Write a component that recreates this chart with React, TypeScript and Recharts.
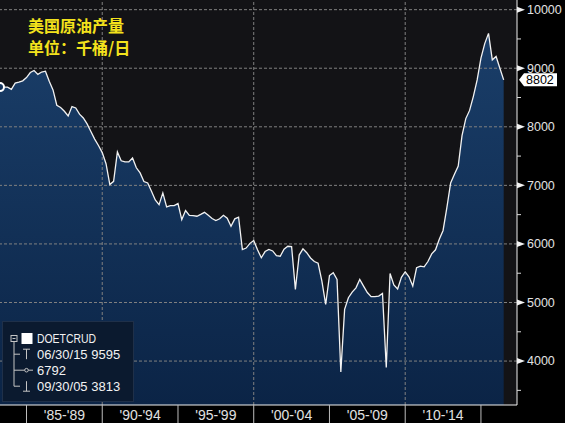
import React from 'react';
import {
  ComposedChart, Area, Line, XAxis, YAxis, CartesianGrid, ReferenceLine,
} from 'recharts';

// quarterly US crude output (kb/d), first point = 1983 Q1, last = 2016 Q2
const FIRST_QUARTER = 1983.25;
const OUTPUT = [
  8678, 8678, 8678, 8640, 8746, 8762, 8785, 8840, 8927, 8962,
  8895, 8935, 8950, 8776, 8630, 8368, 8330, 8265, 8185, 8345,
  8322, 8215, 8150, 8050, 7920, 7790, 7680, 7560, 7370, 7013,
  7069, 7570, 7420, 7400, 7400, 7468, 7300, 7212, 7065, 7042,
  6900, 6750, 6672, 6871, 6633, 6655, 6655, 6689, 6416, 6570,
  6487, 6485, 6473, 6505, 6540, 6490, 6435, 6400, 6430, 6490,
  6440, 6303, 6428, 6456, 5905, 5930, 6010, 6058, 5900, 5764,
  5870, 5906, 5880, 5800, 5790, 5910, 5960, 5955, 5224, 5810,
  5917, 5850, 5760, 5700, 5670, 5365, 4968, 5460, 5510, 5394,
  3813, 4883, 5082, 5178, 5250, 5394, 5280, 5170, 5100, 5099,
  5110, 5156, 3889, 5496, 5300, 5230, 5430, 5525, 5440, 5280,
  5593, 5620, 5610, 5700, 5830, 5900, 6080, 6230, 6620, 7040,
  7190, 7330, 7850, 8140, 8280, 8520, 8800, 9172, 9420, 9595,
  9143, 9200, 9000, 8802,
];

const PERIOD_STARTS = [1985, 1990, 1995, 2000, 2005, 2010, 2015];
const PERIOD_LABELS = ["'85-'89", "'90-'94", "'95-'99", "'00-'04", "'05-'09", "'10-'14"];
const Y_TICKS = [3500, 4000, 4500, 5000, 5500, 6000, 6500, 7000, 7500, 8000, 8500, 9000, 9500, 10000];
const Y_GRID = [4000, 5000, 6000, 7000, 8000, 9000, 10000];
const X_GRID = [1990, 2000, 2010];
const LAST_VALUE = 8802;
const LEGEND_NAME = 'DOETCRUD';
const LEGEND_ROWS = ['06/30/15 9595', '6792', '09/30/05 3813'];

const data = OUTPUT.map((v, i) => ({ t: FIRST_QUARTER + i * 0.25, v }));

const xTicks: number[] = [];
PERIOD_STARTS.forEach((s, i) => {
  xTicks.push(s);
  if (i < PERIOD_LABELS.length) xTicks.push(s + 2.5);
});

const SANS = 'Liberation Sans, Arial, sans-serif';

function XTick(props: any) {
  const { x, y, payload } = props;
  const val = payload.value as number;
  if (PERIOD_STARTS.includes(val)) {
    return <line x1={x} x2={x} y1={y} y2={y + 20} stroke="#bdbdbd" strokeWidth={1} />;
  }
  const idx = PERIOD_STARTS.indexOf(val - 2.5);
  return (
    <text x={x} y={y + 15} textAnchor="middle" fill="#e0e0e0" fontSize={14} fontFamily={SANS}>
      {PERIOD_LABELS[idx]}
    </text>
  );
}

function YTick(props: any) {
  const { x, y, payload } = props;
  const val = payload.value as number;
  if (val % 1000 !== 0) {
    return <line x1={x} x2={x + 4} y1={y} y2={y} stroke="#dcdcdc" strokeWidth={1} />;
  }
  return (
    <g>
      <path d={`M${x},${y - 3} L${x + 8},${y} L${x},${y + 3} Z`} fill="#f2f2f2" />
      <text x={x + 10} y={y} dy="0.35em" fill="#e2e2e2" fontSize={12.5} fontFamily={SANS}>{val}</text>
    </g>
  );
}

function LastTag(props: any) {
  const { viewBox } = props;
  if (!viewBox) return null;
  const tip = viewBox.x + viewBox.width + 2;
  const cy = viewBox.y;
  return (
    <g>
      <path
        d={`M${tip},${cy} L${tip + 5},${cy - 6.5} L${tip + 38},${cy - 6.5} L${tip + 38},${cy + 6.5} L${tip + 5},${cy + 6.5} Z`}
        fill="#ffffff"
      />
      <text x={tip + 7} y={cy} dy="0.36em" fill="#000" fontSize={12.5} fontFamily={SANS}>{LAST_VALUE}</text>
    </g>
  );
}

function LegendBox() {
  const rows = [17.5, 33.2, 49.2, 65.2];
  const g = '#c4c4c4';
  return (
    <svg width={132} height={82} style={{ position: 'absolute', left: 2, top: 321, overflow: 'visible' }}>
      <rect x={0.5} y={0.5} width={131} height={80} fill="#0b1a2f" stroke="#1f3049" />
      {/* collapse box + tree */}
      <rect x={9} y={rows[0] - 3} width={6} height={6} fill="none" stroke={g} strokeWidth={1} />
      <line x1={10.5} x2={13.5} y1={rows[0]} y2={rows[0]} stroke={g} />
      <line x1={12} x2={12} y1={rows[0] + 3} y2={rows[3]} stroke={g} />
      {rows.slice(1).map((r) => (
        <line key={r} x1={12} x2={18} y1={r} y2={r} stroke={g} />
      ))}
      <rect x={19.5} y={rows[0] - 5.5} width={11} height={11} fill="#fff" />
      {/* high */}
      <line x1={21} x2={28} y1={rows[1] - 5} y2={rows[1] - 5} stroke={g} />
      <line x1={24.5} x2={24.5} y1={rows[1] - 5} y2={rows[1] + 5} stroke={g} />
      {/* average */}
      <line x1={18} x2={31} y1={rows[2]} y2={rows[2]} stroke={g} />
      <circle cx={24.5} cy={rows[2]} r={1.8} fill="#0b1a2f" stroke={g} />
      {/* low */}
      <line x1={24.5} x2={24.5} y1={rows[3] - 5} y2={rows[3] + 5} stroke={g} />
      <line x1={21} x2={28} y1={rows[3] + 5} y2={rows[3] + 5} stroke={g} />
      <text x={35} y={rows[0]} dy="0.36em" fill="#f2f2f2" fontSize={12.5} fontFamily={SANS}
        textLength={59} lengthAdjust="spacingAndGlyphs">{LEGEND_NAME}</text>
      {LEGEND_ROWS.map((t, i) => (
        <text key={t} x={35} y={rows[i + 1]} dy="0.36em" fill="#f2f2f2" fontSize={13} fontFamily={SANS}>{t}</text>
      ))}
    </svg>
  );
}

export default function App() {
  return (
    <div style={{ position: 'relative', width: 565, height: 423, background: '#000', overflow: 'hidden' }}>
      <style>{'body{margin:0;background:#000}'}</style>
      <ComposedChart width={565} height={423} data={data} margin={{ top: 0, right: 0, left: 0, bottom: 0 }}>
        <defs>
          <linearGradient id="oilFill" x1="0" y1="0" x2="0" y2="1">
            <stop offset="0%" stopColor="#1a3e69" />
            <stop offset="100%" stopColor="#0b2446" />
          </linearGradient>
        </defs>
        <CartesianGrid fill="#131316" stroke="none" horizontal={false} vertical={false} />
        <XAxis
          dataKey="t" type="number" domain={[1983.25, 2017.38]} allowDataOverflow
          ticks={xTicks} interval={0} height={18} tickSize={0} tickMargin={0}
          tickLine={false} axisLine={{ stroke: '#f0f0f0', strokeWidth: 1 }} tick={<XTick />}
        />
        <YAxis
          orientation="right" type="number" domain={[3250, 10165]} allowDataOverflow
          ticks={Y_TICKS} interval={0} width={48} tickSize={0} tickMargin={0}
          tickLine={false} axisLine={{ stroke: '#f0f0f0', strokeWidth: 1 }} tick={<YTick />}
        />
        <Area dataKey="v" type="linear" stroke="none" fill="url(#oilFill)" fillOpacity={1}
          baseValue="dataMin" isAnimationActive={false} />
        {Y_GRID.map((v) => (
          <ReferenceLine key={`h${v}`} y={v} stroke="#808080" strokeDasharray="3 2" strokeWidth={1} />
        ))}
        {X_GRID.map((v) => (
          <ReferenceLine key={`v${v}`} x={v} stroke="#808080" strokeDasharray="3 2" strokeWidth={1} />
        ))}
        <Line dataKey="v" type="linear" stroke="#f2f2f2" strokeWidth={1.3} dot={false}
          activeDot={false} isAnimationActive={false} />
        <ReferenceLine y={LAST_VALUE} stroke="none" label={<LastTag />} />
      </ComposedChart>
      <div style={{
        position: 'absolute', left: 28, top: 14, color: '#f3e21c',
        fontFamily: '"Noto Sans CJK SC", sans-serif', fontWeight: 700, fontSize: 16, lineHeight: '22px',
      }}>
        <div>美国原油产量</div>
        <div>单位：千桶/日</div>
      </div>
      <LegendBox />
    </div>
  );
}
